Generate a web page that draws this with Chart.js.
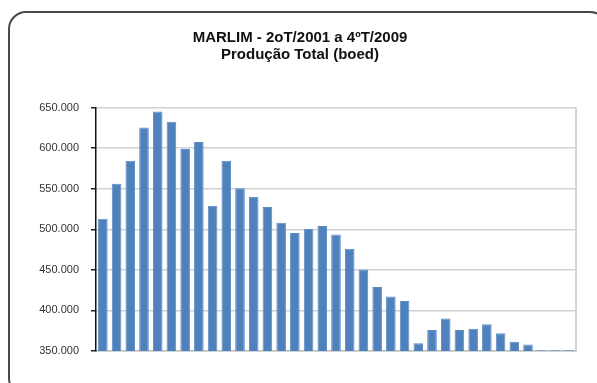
<!DOCTYPE html>
<html>
<head>
<meta charset="utf-8">
<script src="https://cdn.jsdelivr.net/npm/chart.js@4"></script>
<style>
    html, body { margin: 0; padding: 0; background: #fff; }
    #wrap { position: relative; width: 597px; height: 383px; overflow: hidden; }
    #frame {
        position: absolute; left: 8px; top: 11px; width: 600px; height: 385px;
        border: 2px solid #4a4a4a; border-radius: 18px; box-sizing: border-box;
    }
    #chart { position: absolute; left: 0; top: 0; }
</style>
</head>
<body>
<div id="wrap">
    <div id="frame"></div>
    <canvas id="chart" width="597" height="383"></canvas>
</div>
<script>
// Quarters from 2T/2001 to 4T/2009
const quarters = [
    '2T/2001', '3T/2001', '4T/2001',
    '1T/2002', '2T/2002', '3T/2002', '4T/2002',
    '1T/2003', '2T/2003', '3T/2003', '4T/2003',
    '1T/2004', '2T/2004', '3T/2004', '4T/2004',
    '1T/2005', '2T/2005', '3T/2005', '4T/2005',
    '1T/2006', '2T/2006', '3T/2006', '4T/2006',
    '1T/2007', '2T/2007', '3T/2007', '4T/2007',
    '1T/2008', '2T/2008', '3T/2008', '4T/2008',
    '1T/2009', '2T/2009', '3T/2009', '4T/2009'
];

// Total production (boed)
const production = [
    513000, 556000, 584500, 625500, 645000, 632500, 599000, 607500,
    529000, 584500, 550500, 540000, 527500, 508000, 495500, 500500,
    504000, 493500, 476000, 450500, 429000, 417000, 411500, 359500,
    376000, 390000, 376000, 377500, 383000, 372000, 361500, 358000,
    351000, 351000, 351000
];

const titleLines = ['MARLIM - 2oT/2001 a 4ºT/2009', 'Produção Total (boed)'];
const yMin = 350000;
const yMax = 650000;
const yStep = 50000;

// 650000 -> "650.000"
function formatThousands(v) {
    return String(Math.round(v)).replace(/\B(?=(\d{3})+(?!\d))/g, '.');
}

// gray line on the right edge of the plot area
const plotBorder = {
    id: 'plotBorder',
    afterDraw(chart) {
        const a = chart.chartArea;
        const ctx = chart.ctx;
        ctx.save();
        ctx.strokeStyle = '#c8c8c8';
        ctx.lineWidth = 1.5;
        ctx.beginPath();
        ctx.moveTo(a.right, a.top);
        ctx.lineTo(a.right, a.bottom);
        ctx.stroke();
        ctx.restore();
    }
};

const ctx = document.getElementById('chart').getContext('2d');
new Chart(ctx, {
    type: 'bar',
    data: {
        labels: quarters,
        datasets: [{
            label: 'Produção Total (boed)',
            data: production,
            backgroundColor: '#4f81bd',
            borderColor: '#5b8cc6',
            borderWidth: 1,
            barPercentage: 0.7,
            categoryPercentage: 1.0
        }]
    },
    options: {
        responsive: false,
        animation: false,
        layout: {
            padding: { top: 20, right: 21, bottom: 32, left: 24 }
        },
        plugins: {
            legend: { display: false },
            tooltip: { enabled: false },
            title: {
                display: true,
                text: titleLines,
                color: '#111',
                font: { family: '"Liberation Sans", Arial, sans-serif', size: 15, weight: 'bold', lineHeight: 1.15 },
                padding: { top: 9, bottom: 44 }
            }
        },
        scales: {
            x: {
                grid: { display: false },
                ticks: { display: false },
                border: { display: true, color: '#c0c0c0', width: 1.5 },
                afterFit(scale) { scale.height = 0; }
            },
            y: {
                min: yMin,
                max: yMax,
                ticks: {
                    stepSize: yStep,
                    padding: 12,
                    color: '#333',
                    font: { family: '"Liberation Sans", Arial, sans-serif', size: 11 },
                    callback: v => formatThousands(v)
                },
                grid: {
                    color: '#d2d2d2',
                    lineWidth: 1.5,
                    tickLength: 5,
                    tickColor: '#222'
                },
                border: { display: true, color: '#111', width: 1.5 },
                afterFit(scale) { scale.width = 72; }
            }
        }
    },
    plugins: [plotBorder]
});
</script>
</body>
</html>
